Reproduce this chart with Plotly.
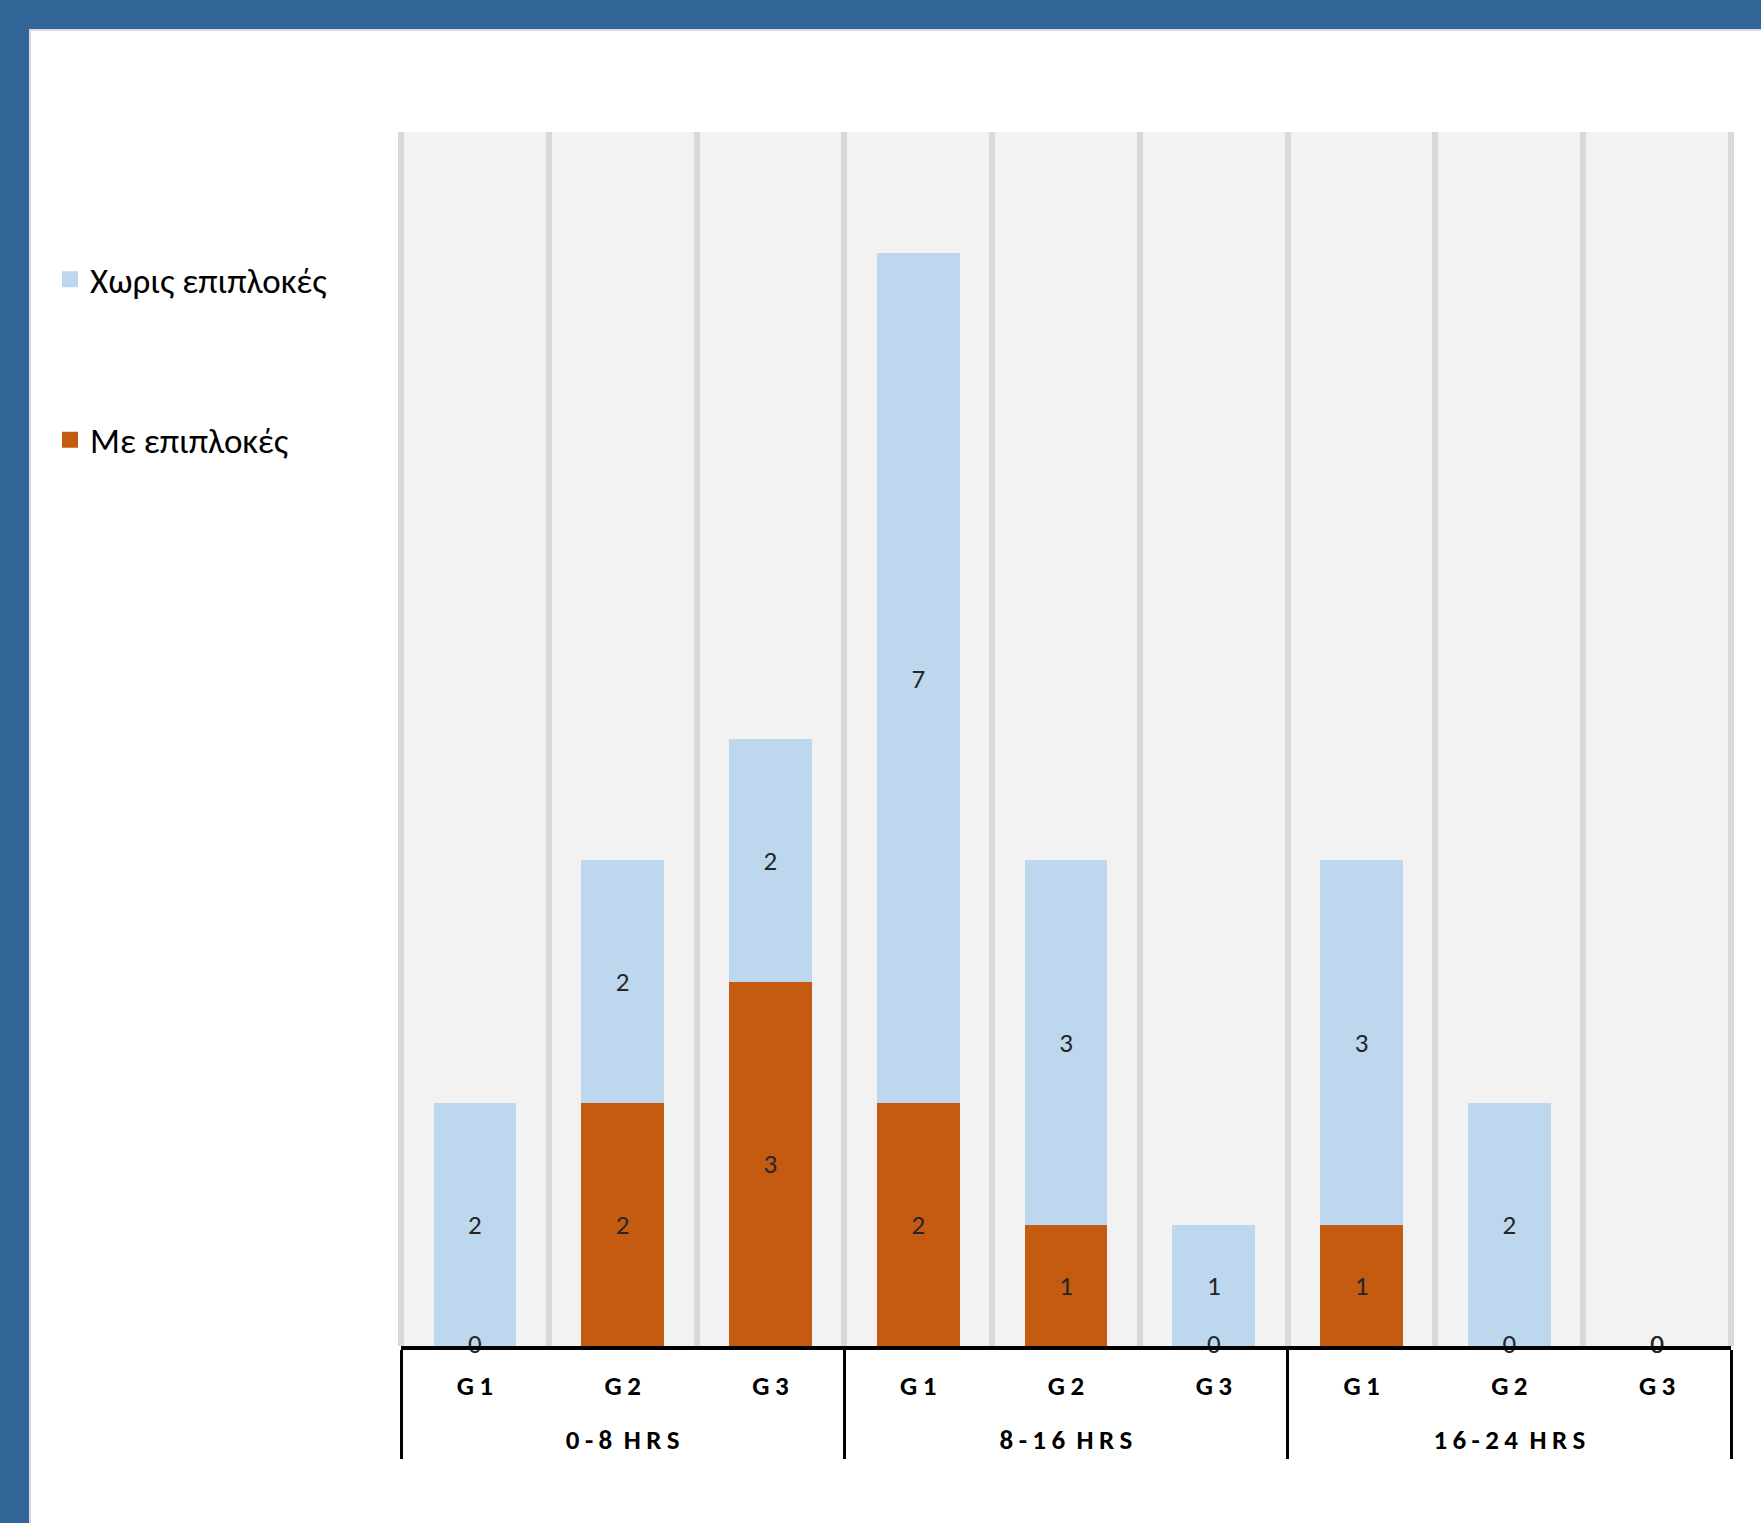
import plotly.graph_objects as go

# ---- data ----
groups = ["0-8 HRS", "8-16 HRS", "16-24 HRS"]
subgroups = ["G1", "G2", "G3"]
no_compl = [2, 2, 2, 7, 3, 1, 3, 2, 0]      # Χωρις επιπλοκές
with_compl = [0, 2, 3, 2, 1, 0, 1, 0, 0]    # Με επιπλοκές
series_names = ["Χωρις επιπλοκές", "Με επιπλοκές"]

BLUE = "#bdd7ee"
ORANGE = "#c55a11"
BAND = "#326699"

def spaced(s):
    # emulate Excel's character spacing on axis labels
    words = s.split(" ")
    return "\u2009\u00a0".join("\u2009".join(list(w)) for w in words)

SPACER = "<br><span style='font-size:15px'> </span>"
outer = [spaced(g) for g in groups for _ in subgroups]
inner = [spaced(s) + SPACER for _ in groups for s in subgroups]
x = [outer, inner]

W, H = 1761, 1523
L, R, T, B = 401, 30, 132, 177
pw, ph = W - L - R, H - T - B

def px_x(p):
    return (p - L) / pw

def px_y(p):
    return (H - B - p) / ph

FONT = "Carlito, Calibri, 'Noto Sans', sans-serif"
LBL = dict(size=27, color="#262626", family=FONT)

fig = go.Figure()
fig.add_trace(go.Bar(
    x=x, y=with_compl, name=series_names[1], marker_color=ORANGE,
    marker_line_width=0, texttemplate="%{y}",
    textposition="inside", insidetextanchor="middle", textangle=0,
    textfont=LBL, cliponaxis=False, showlegend=False,
))
fig.add_trace(go.Bar(
    x=x, y=no_compl, name=series_names[0], marker_color=BLUE,
    marker_line_width=0, texttemplate="%{y}",
    textposition="inside", insidetextanchor="middle", textangle=0,
    textfont=LBL, cliponaxis=False, showlegend=False,
))

# zero-valued data labels (Excel shows them at the baseline)
zx0, zx1, zy, zt = [], [], [], []
for i, (a, b) in enumerate(zip(with_compl, no_compl)):
    for v in (a, b):
        if v == 0:
            zx0.append(outer[i]); zx1.append(inner[i]); zy.append(v); zt.append(str(v))
fig.add_trace(go.Scatter(
    x=[zx0, zx1], y=zy, text=zt, mode="text", textposition="middle center",
    textfont=LBL, cliponaxis=False, showlegend=False, hoverinfo="skip",
))

# legend entries with larger square keys
for name, col, grp, rank in [(series_names[0], BLUE, "a", 1), (series_names[1], ORANGE, "b", 2)]:
    fig.add_trace(go.Scatter(
        x=[None], y=[None], mode="markers", name=name,
        marker=dict(symbol="square", size=19, color=col),
        legendgroup=grp, legendrank=rank, showlegend=True,
    ))

shapes = [
    # plot-area edge gridlines
    dict(type="line", xref="paper", yref="paper", x0=0, x1=0, y0=0, y1=1,
         line=dict(color="#d9d9d9", width=6), layer="below"),
    dict(type="line", xref="paper", yref="paper", x0=1, x1=1, y0=0, y1=1,
         line=dict(color="#d9d9d9", width=6), layer="below"),
    # blue frame bands and thin grey edges
    dict(type="rect", xref="paper", yref="paper", x0=px_x(0), x1=px_x(29),
         y0=px_y(H), y1=px_y(0), fillcolor=BAND, line_width=0, layer="above"),
    dict(type="rect", xref="paper", yref="paper", x0=px_x(0), x1=px_x(W),
         y0=px_y(29), y1=px_y(0), fillcolor=BAND, line_width=0, layer="above"),
    dict(type="rect", xref="paper", yref="paper", x0=px_x(29), x1=px_x(31),
         y0=px_y(H), y1=px_y(29), fillcolor="#dcdcdc", line_width=0, layer="above"),
    dict(type="rect", xref="paper", yref="paper", x0=px_x(29), x1=px_x(W),
         y0=px_y(31), y1=px_y(29), fillcolor="#dcdcdc", line_width=0, layer="above"),
]

fig.update_layout(
    width=W, height=H,
    margin=dict(l=L, r=R, t=T, b=B, pad=0),
    paper_bgcolor="white", plot_bgcolor="#f2f2f2",
    barmode="stack", bargap=0.44,
    font=dict(family=FONT, color="#000000"),
    showlegend=True,
    legend=dict(
        x=px_x(50), xanchor="left", y=px_y(250), yanchor="top",
        font=dict(size=35, family=FONT, color="#000000"),
        traceorder="grouped", tracegroupgap=112, bgcolor="rgba(0,0,0,0)",
        itemsizing="trace",
    ),
    xaxis=dict(
        type="multicategory", tickson="boundaries",
        showgrid=True, gridcolor="#d9d9d9", gridwidth=6,
        showline=True, linecolor="#000000", linewidth=4,
        showdividers=True, dividercolor="#000000", dividerwidth=3,
        ticks="", ticklabelstandoff=13,
        tickfont=dict(size=27, family=FONT, color="#000000", weight="bold"),
    ),
    yaxis=dict(range=[0, 10], showticklabels=False, showgrid=False,
               zeroline=False, showline=False, ticks=""),
    shapes=shapes,
)

fig.write_html("out.html")
